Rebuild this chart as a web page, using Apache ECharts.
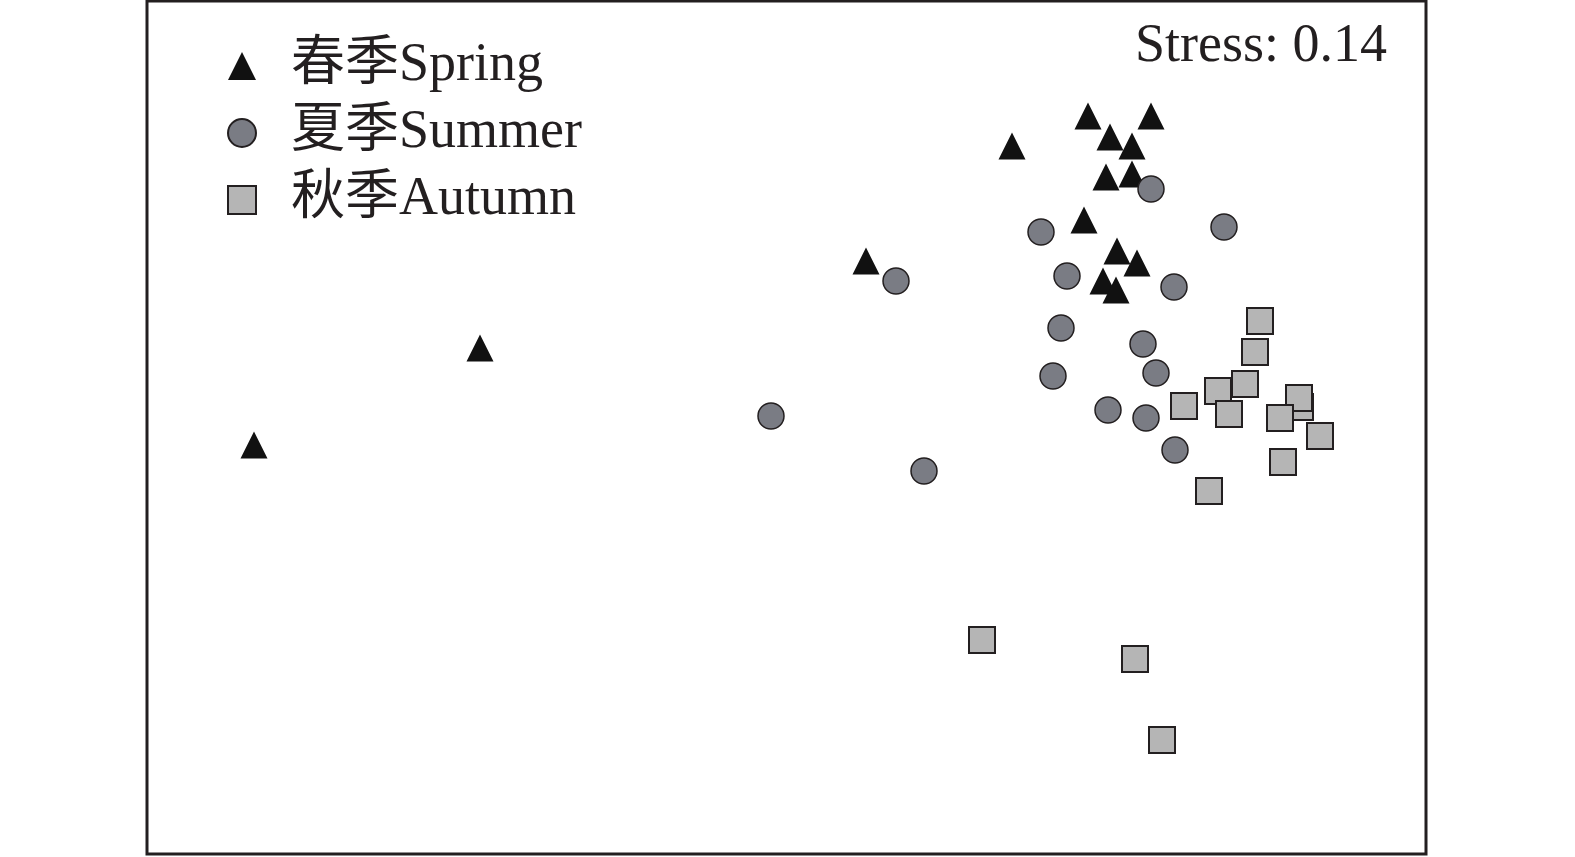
<!DOCTYPE html>
<html>
<head>
<meta charset="utf-8">
<script src="https://cdn.jsdelivr.net/npm/echarts@6/dist/echarts.min.js"></script>
<style>
  html, body { margin: 0; padding: 0; background: #fff; }
  #chart { width: 1575px; height: 857px; }
</style>
</head>
<body>
<div id="chart"></div>
<script>
// NMDS 坐标 (从图上读取, 单位为原图像素)
const springData = [
  [254, 445], [480, 348], [866, 261], [1012, 146], [1088, 116],
  [1151, 116], [1110, 137], [1132, 146], [1106, 177], [1132, 174],
  [1084, 220], [1117, 251], [1137, 263], [1103, 281], [1116, 290]
]
const summerData = [
  [771, 416], [896, 281], [924, 471], [1151, 189], [1041, 232],
  [1224, 227], [1067, 276], [1174, 287], [1061, 328], [1143, 344],
  [1053, 376], [1156, 373], [1108, 410], [1146, 418], [1175, 450]
]
const autumnData = [
  [982, 640], [1135, 659], [1162, 740], [1260, 321], [1255, 352],
  [1245, 384], [1218, 391], [1184, 406], [1229, 414], [1300, 407],
  [1299, 398], [1280, 418], [1320, 436], [1283, 462], [1209, 491]
]
const seriesNames = ["春季Spring", "夏季Summer", "秋季Autumn"]
const stressLabel = "Stress: 0.14"

const fontFamily = '"Liberation Serif", "Noto Sans CJK SC", serif'

let myChart = echarts.init(document.getElementById("chart"))
myChart.setOption({
  animation: false,
  backgroundColor: "#fff",
  grid: {
    left: 147,
    right: 149,
    top: 1,
    bottom: 3,
    show: true,
    borderColor: "#231f20",
    borderWidth: 3,
    backgroundColor: "transparent",
  },
  xAxis: {
    type: "value",
    min: 147,
    max: 1426,
    show: false,
  },
  yAxis: {
    type: "value",
    min: 1,
    max: 854,
    inverse: true,
    show: false,
  },
  legend: {
    orient: "vertical",
    left: 227,
    top: 39,
    padding: 0,
    itemWidth: 28,
    itemHeight: 28,
    itemGap: 13,
    data: seriesNames,
    textStyle: {
      fontFamily: fontFamily,
      fontSize: 54,
      lineHeight: 54,
      color: "#231f20",
      padding: [0, 0, 0, 30],
    },
  },
  graphic: [
    {
      type: "text",
      x: 1387,
      y: 47,
      style: {
        text: stressLabel,
        font: "54px " + fontFamily,
        fill: "#231f20",
        textAlign: "right",
        textVerticalAlign: "middle",
      },
    },
  ],
  series: [
    {
      name: seriesNames[0],
      type: "scatter",
      symbol: "triangle",
      symbolSize: 27,
      data: springData,
      itemStyle: { color: "#111111", borderColor: "#111111", borderWidth: 0, opacity: 1 },
    },
    {
      name: seriesNames[1],
      type: "scatter",
      symbol: "circle",
      symbolSize: 26,
      data: summerData,
      itemStyle: { color: "#7a7c84", borderColor: "#231f20", borderWidth: 1.5, opacity: 1 },
    },
    {
      name: seriesNames[2],
      type: "scatter",
      symbol: "rect",
      symbolSize: 26,
      data: autumnData,
      itemStyle: { color: "#b5b5b5", borderColor: "#231f20", borderWidth: 2, opacity: 1 },
    },
  ],
})
</script>
</body>
</html>
